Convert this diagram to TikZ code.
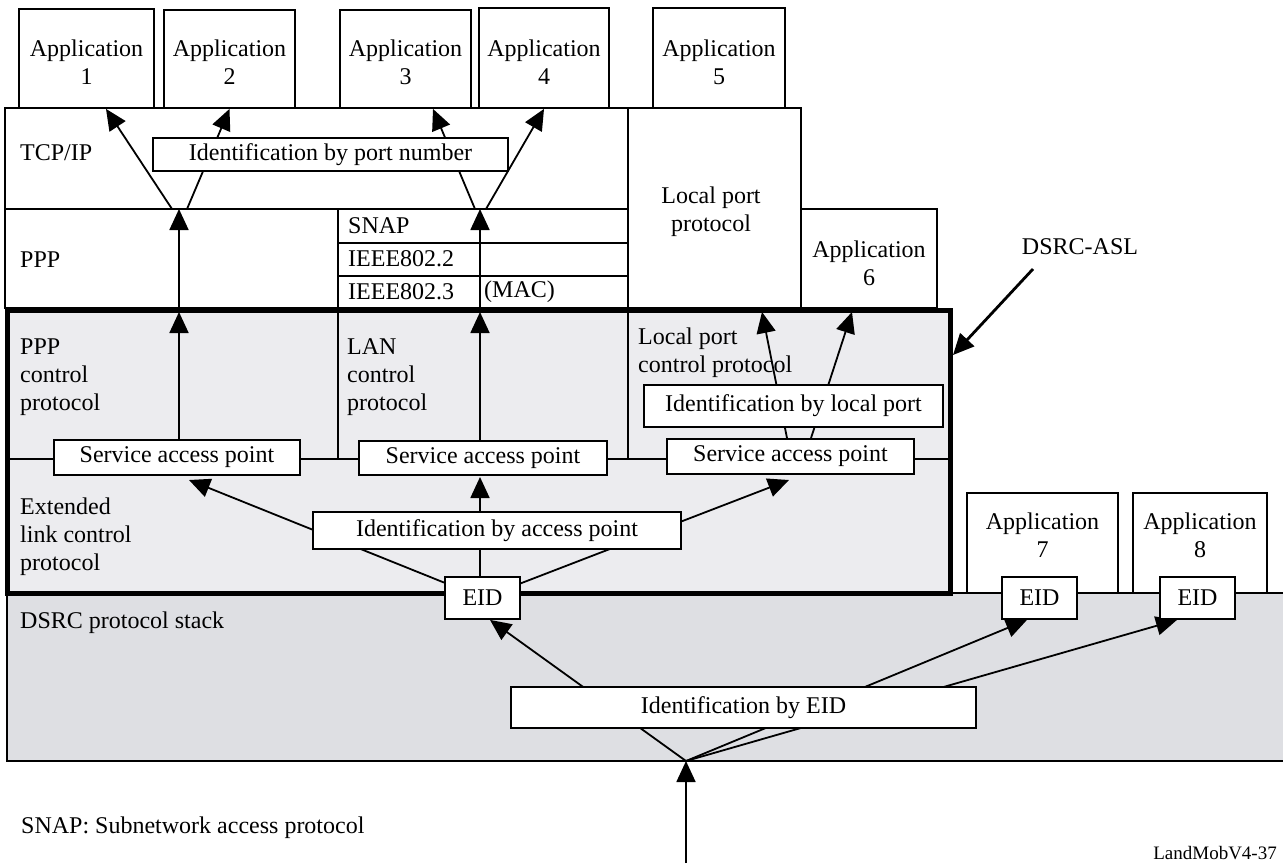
\documentclass[tikz,border=0pt]{standalone}
\usepackage{fontspec}
\setmainfont{Liberation Serif}
\usetikzlibrary{arrows.meta,fit}
\definecolor{aslgray}{RGB}{236,236,239}
\definecolor{stackgray}{RGB}{222,223,227}
\pgfdeclarelayer{fills}
\pgfdeclarelayer{lines}
\pgfsetlayers{fills,lines,main}
\begin{document}
\begin{tikzpicture}[x=1pt,y=-1pt,
  font=\fontsize{24}{28}\selectfont,
  box/.style={draw,line width=1.8pt,fill=white,inner sep=0pt},
  txt/.style={inner sep=0pt,align=center},
  lbl/.style={inner sep=0pt,align=left,anchor=west},
  ln/.style={line width=1.8pt},
  arr/.style={line width=1.8pt,-{Triangle[length=21pt,width=19pt]}},
  aslframe/.style={draw,line width=5pt,fill=aslgray,inner sep=0pt}]
\useasboundingbox (0,0) rectangle (1283,865);

% ---------- application boxes ----------
\node[box,fit={(19,9)(154,108)}] (app1) {};
\node[txt] (app1t) at (app1 |- 0,62) {Application\\1};
\node[box,fit={(164,10)(295,108)}] (app2) {};
\node[txt] (app2t) at (app2 |- 0,62) {Application\\2};
\node[box,fit={(340,10)(471,108)}] (app3) {};
\node[txt] (app3t) at (app3 |- 0,62) {Application\\3};
\node[box,fit={(479,8)(609,108)}] (app4) {};
\node[txt] (app4t) at (app4 |- 0,62) {Application\\4};
\node[box,fit={(653,8)(785,108)}] (app5) {};
\node[txt] (app5t) at (app5 |- 0,62) {Application\\5};
\node[box,fit={(628,108)(801,308)}] (lpp) {};
\node[txt] (lppt) at (711,212) {Local port\\protocol};
\node[box,fit={(801,209)(937,308)}] (app6) {};
\node[txt] (app6t) at (app6 |- 0,263) {Application\\6};
\node[box,fit={(967,493)(1118,593)}] (app7) {};
\node[txt] (app7t) at (app7 |- 0,535.5) {Application\\7};
\node[box,fit={(1133,493)(1267,593)}] (app8) {};
\node[txt] (app8t) at (app8 |- 0,535.5) {Application\\8};

% ---------- identification / SAP / EID boxes ----------
\node[box,minimum width=355pt,minimum height=33pt] (port) at (330.5,154.5) {Identification by port number};
\node[box,minimum width=246pt,minimum height=35pt] (sap1) at (177,457.5) {Service access point};
\node[box,minimum width=248pt,minimum height=34pt] (sap2) at (483,458) {Service access point};
\node[box,minimum width=247pt,minimum height=35pt] (sap3) at (790.5,456.5) {Service access point};
\node[box,minimum width=299pt,minimum height=42pt] (idlp) at (793.5,406) {Identification by local port};
\node[box,minimum width=368pt,minimum height=37pt] (idap) at (497,530.5) {Identification by access point};
\node[box,minimum width=75pt,minimum height=42pt] (eid1) at (482.5,598) {EID};
\node[box,minimum width=75pt,minimum height=42pt] (eid7) at (1039.5,598) {EID};
\node[box,minimum width=75pt,minimum height=42pt] (eid8) at (1197.5,598) {EID};
\node[box,minimum width=465pt,minimum height=41pt] (ideid) at (743.5,707.5) {Identification by EID};

% ---------- labels ----------
\node[lbl] (tcp) at (20,153) {TCP/IP};
\node[lbl] (ppp) at (20,260) {PPP};
\node[lbl] (snap) at (348,226) {SNAP};
\node[lbl] (ieee2) at (348,259) {IEEE802.2};
\node[lbl] (ieee3) at (348,292) {IEEE802.3};
\node[lbl] (mac) at (484,292) {(MAC)};
\node[lbl] (pppcp) at (20,377.6) {PPP\\control\\protocol};
\node[lbl] (lancp) at (347,377.6) {LAN\\control\\protocol};
\node[lbl] (lpcp) at (638,353) {Local port\\control protocol};
\node[lbl] (elcp) at (20,536.4) {Extended\\link control\\protocol};
\node[lbl] (dsrc) at (20,623) {DSRC protocol stack};
\node[txt] (asllbl) at (1080,247) {DSRC-ASL};
\node[lbl] (snapnote) at (21,828) {SNAP: Subnetwork access protocol};
\node[inner sep=0pt,anchor=east,font=\fontsize{19}{22}\selectfont] (figid) at (1277,853) {LandMobV4-37};

% ---------- fills ----------
\begin{pgfonlayer}{fills}
\fill[stackgray] (7,593) rectangle (1283,761);
\node[aslframe,fit={(7,310)(950,593)}] (asl) {};
\end{pgfonlayer}

% ---------- lines and connectors ----------
\begin{pgfonlayer}{lines}
\draw[ln] (1283,593) -- (7,593) -- (7,761) -- (1283,761);
\draw[ln] (5,108) rectangle (628,308);
\draw[ln] (5,209) -- (628,209);
\draw[ln] (338,209) -- (338,308);
\draw[ln] (338,243) -- (628,243);
\draw[ln] (338,276) -- (628,276);
\draw[ln] (338,310) -- (338,459);
\draw[ln] (628,310) -- (628,459);
\draw[ln] (7,459) -- (950,459);

\coordinate (t1) at (179,312);
\coordinate (p1) at (179,209);
\coordinate (t2) at (480,312);
\coordinate (p2) at (480,209);
\coordinate (p1a) at (172,209);
\coordinate (p1b) at (187,209);
\coordinate (p2a) at (475,209);
\coordinate (p2b) at (486,209);
\draw[arr] (sap1.north -| t1) -- (t1);
\draw[arr] (t1) -- (p1);
\draw[arr] (sap2.north -| t2) -- (t2);
\draw[arr] (t2) -- (p2);
\draw[arr] (p1a) -- ([xshift=19.5pt]app1.south);
\draw[arr] (p1b) -- (app2.south);
\draw[arr] (p2a) -- ([xshift=27.5pt]app3.south);
\draw[arr] (p2b) -- (app4.south);

\coordinate (s1) at (189,480);
\coordinate (s2) at (480,477);
\coordinate (s3) at (789,480);
\draw[arr] (eid1) -- (s1);
\draw[arr] (eid1.center -| s2) -- (s2);
\draw[arr] (eid1) -- (s3);

\coordinate (l1) at (762,312);
\coordinate (l2) at (852,312);
\draw[arr] ([xshift=-3.5pt]sap3.north) -- (l1);
\draw[arr] ([xshift=20.5pt]sap3.north) -- (l2);

\coordinate (in) at (686,863);
\coordinate (hub) at (686,761);
\draw[arr] (in) -- (hub);
\draw[arr] (hub) -- ([xshift=7.5pt]eid1.south);
\draw[arr] (hub) -- ([xshift=-12.5pt]eid7.south);
\draw[arr] (hub) -- ([xshift=-20.5pt]eid8.south);

\coordinate (asls) at (1033,269);
\coordinate (aslhit) at (953,355);
\draw[arr,line width=2.8pt] (asls) -- (aslhit);
\end{pgfonlayer}
\end{tikzpicture}
\end{document}
